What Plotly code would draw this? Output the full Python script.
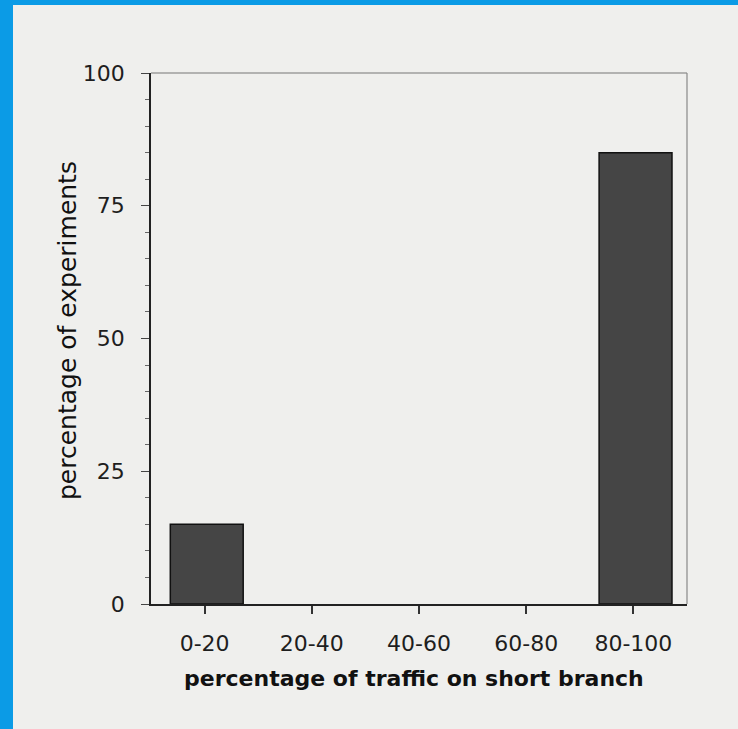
import plotly.graph_objects as go

# Distribution of traffic on the short branch across experiments
categories = ["0-20", "20-40", "40-60", "60-80", "80-100"]
pct_experiments = [15, 0, 0, 0, 85]
y_ticks = [0, 25, 50, 75, 100]

W, H = 738, 729
L, R, T, B = 151, 51, 73, 125
pw, ph = W - L - R, H - T - B


def px_x(p):
    return (p - L) / pw


def px_y(p):
    return (H - B - p) / ph


paper = "#efefed"
font = "DejaVu Sans"

# outline only the bars that have height
outline = [1.5 if v > 0 else 0 for v in pct_experiments]

fig = go.Figure(
    go.Bar(
        x=categories,
        y=pct_experiments,
        width=0.68,
        offset=-0.32,
        marker=dict(color="#454545", line=dict(color="#111111", width=outline)),
    )
)

fig.update_layout(
    width=W,
    height=H,
    margin=dict(l=L, r=R, t=T, b=B),
    paper_bgcolor=paper,
    plot_bgcolor=paper,
    showlegend=False,
    font=dict(family=font, size=22, color="#1e1e1e"),
)

fig.update_xaxes(
    type="category",
    range=[-0.5, 4.5],
    showline=True,
    linecolor="#222222",
    linewidth=1.5,
    ticks="outside",
    ticklen=8,
    tickwidth=1.5,
    tickcolor="#333333",
    ticklabelstandoff=11,
    showgrid=False,
    zeroline=False,
)

fig.update_yaxes(
    range=[0, 100],
    tickvals=y_ticks,
    showline=True,
    linecolor="#222222",
    linewidth=1.5,
    ticks="outside",
    ticklen=8,
    tickwidth=1.2,
    tickcolor="#444444",
    ticklabelstandoff=12,
    minor=dict(dtick=5, ticks="outside", ticklen=4, tickcolor="#666666", tickwidth=1),
    showgrid=False,
    zeroline=False,
)

# Thin grey frame on the top and right of the plot
fig.add_shape(type="line", xref="paper", yref="paper", x0=0, x1=1, y0=1, y1=1,
              line=dict(color="#777777", width=1.2))
fig.add_shape(type="line", xref="paper", yref="paper", x0=1, x1=1, y0=0, y1=1,
              line=dict(color="#888888", width=1.2))

# Blue page border along left and top edges
fig.add_shape(type="rect", xref="paper", yref="paper",
              x0=px_x(0), x1=px_x(13), y0=px_y(H), y1=px_y(0),
              line=dict(width=0), fillcolor="#0b9be6", layer="above")
fig.add_shape(type="rect", xref="paper", yref="paper",
              x0=px_x(0), x1=px_x(W), y0=px_y(5), y1=px_y(0),
              line=dict(width=0), fillcolor="#0b9be6", layer="above")

fig.add_annotation(
    text="percentage of traffic on short branch",
    xref="paper", yref="paper", x=px_x(414), y=px_y(678),
    xanchor="center", yanchor="middle",
    showarrow=False, font=dict(family=font, size=22, color="#111111", weight="bold"),
)
fig.add_annotation(
    text="percentage of experiments",
    xref="paper", yref="paper", x=px_x(67), y=px_y(331),
    xanchor="center", yanchor="middle",
    textangle=-90, showarrow=False, font=dict(family=font, size=25, color="#111111"),
)

fig.write_html("out.html")
